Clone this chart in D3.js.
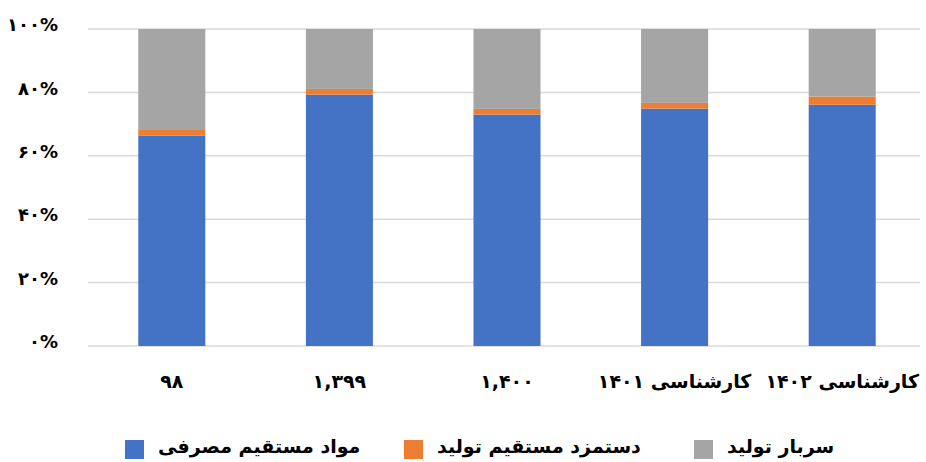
<!DOCTYPE html>
<html>
<head>
<meta charset="utf-8">
<script src="https://cdn.jsdelivr.net/npm/d3@7"></script>
<style>
  html, body { margin: 0; padding: 0; background: #fff; }
  svg { display: block; font-family: "DejaVu Sans", sans-serif; font-weight: bold; }
</style>
</head>
<body>
<svg id="chart" width="926" height="462"></svg>
<script>
// chart data (percent of total cost)
const categories = ["۹۸", "۱,۳۹۹", "۱,۴۰۰", "کارشناسی ۱۴۰۱", "کارشناسی ۱۴۰۲"];
const seriesNames = ["مواد مستقیم مصرفی", "دستمزد مستقیم تولید", "سربار تولید"];
const materials = [66.3, 79.3, 73.0, 74.9, 76.1];
const labor = [2.1, 1.8, 1.8, 1.8, 2.6];
const overhead = [31.6, 18.9, 25.2, 23.3, 21.3];
const yTicks = [0, 0.2, 0.4, 0.6, 0.8, 1];
const colors = ["#4472C4", "#ED7D31", "#A5A5A5"];

const width = 926, height = 462;
const svg = d3.select("#chart");

const faDigits = s => String(s).replace(/[0-9]/g, d => "۰۱۲۳۴۵۶۷۸۹"[+d]);

const rows = categories.map((c, i) => ({ cat: c, s0: materials[i], s1: labor[i], s2: overhead[i] }));
const stack = d3.stack().keys(["s0", "s1", "s2"]).offset(d3.stackOffsetExpand);
const layers = stack(rows);

const x = d3.scaleBand().domain(categories).range([88, 926]).paddingInner(0.6).paddingOuter(0.3);
const y = d3.scaleLinear().domain([0, 1]).range([346, 29]);

// gridlines
svg.append("g")
  .selectAll("line")
  .data(yTicks)
  .join("line")
  .attr("x1", 88).attr("x2", 920)
  .attr("y1", d => y(d)).attr("y2", d => y(d))
  .attr("stroke", "#d9d9d9").attr("stroke-width", 1.5);

// y axis labels
const yAxis = d3.axisLeft(y).tickValues(yTicks).tickSize(0).tickPadding(0)
  .tickFormat(d => faDigits(d3.format(".0%")(d)));
svg.append("g")
  .attr("transform", "translate(58,-4)")
  .call(yAxis)
  .call(g => g.select(".domain").remove())
  .selectAll("text")
  .attr("font-size", 18).attr("font-family", "DejaVu Sans").attr("font-weight", "bold")
  .attr("fill", "#000");

// bars
svg.append("g")
  .selectAll("g")
  .data(layers)
  .join("g")
  .attr("fill", (d, i) => colors[i])
  .selectAll("rect")
  .data(d => d)
  .join("rect")
  .attr("x", d => x(d.data.cat))
  .attr("width", x.bandwidth())
  .attr("y", d => y(d[1]))
  .attr("height", d => y(d[0]) - y(d[1]));

// x axis labels
const xAxis = d3.axisBottom(x).tickSize(0).tickPadding(0);
svg.append("g")
  .attr("transform", "translate(0,388)")
  .call(xAxis)
  .call(g => g.select(".domain").remove())
  .selectAll("text")
  .attr("dy", 0)
  .attr("font-size", 19).attr("font-family", "DejaVu Sans").attr("font-weight", "bold")
  .attr("fill", "#000");

// legend
const legendX = [125, 404, 694];
const legend = svg.append("g")
  .selectAll("g")
  .data(seriesNames)
  .join("g")
  .attr("transform", (d, i) => `translate(${legendX[i]},440)`);
legend.append("rect")
  .attr("width", 19).attr("height", 19)
  .attr("fill", (d, i) => colors[i]);
legend.append("text")
  .attr("x", 33).attr("y", 13)
  .attr("font-size", 19)
  .attr("fill", "#000")
  .text(d => d);
</script>
</body>
</html>
